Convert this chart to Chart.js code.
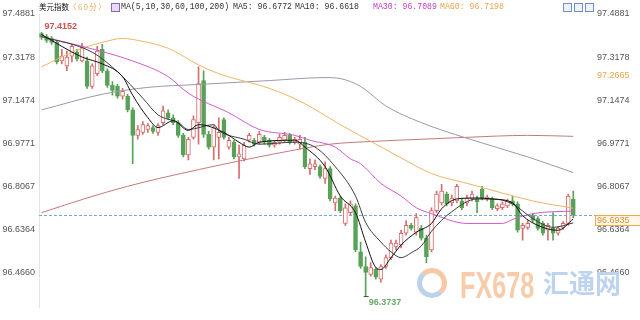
<!DOCTYPE html>
<html>
<head>
<meta charset="utf-8">
<title>美元指数 60分</title>
<script src="https://cdn.jsdelivr.net/npm/chart.js@4.4.1/dist/chart.umd.min.js"></script>
<style>
  html, body { margin: 0; padding: 0; background: #fff; }
  #box { position: relative; width: 640px; height: 320px; overflow: hidden; }
  #c { position: absolute; left: 0; top: 0; }
  .t { position: absolute; top: 2px; line-height: 10px; white-space: nowrap; }
  .cn { font-size: 7.5px; font-family: "Noto Sans CJK SC", sans-serif; color: #111; }
  .ma { font-size: 8.2px; font-family: "Liberation Mono", monospace; color: #333; }
  .ico { position: absolute; top: 3px; width: 7px; height: 7px; border: 1px solid #6f8fc8; background: #eef3fb; }
  .wm { position: absolute; pointer-events: none; font-weight: bold; white-space: nowrap; line-height: 1; }
</style>
</head>
<body>
<div id="box">
  <canvas id="c" width="640" height="320"></canvas>

  <span class="t cn" style="left:39px">美元指数</span>
  <span class="t cn" style="left:69px;color:#e9a54a;letter-spacing:1.5px">〈60分〉</span>
  <span class="ico" style="left:111px;border-color:#8b66b8;background:#e6daf4"></span>
  <span class="t ma" style="left:121px">MA(5,10,30,60,100,200)</span>
  <span class="t ma" style="left:233px">MA5: 96.6772</span>
  <span class="t ma" style="left:295px">MA10: 96.6618</span>
  <span class="t ma" style="left:373px;color:#c23cc2">MA30: 96.7089</span>
  <span class="t ma" style="left:440px;color:#e6a64c">MA60: 96.7198</span>
  <span class="ico" style="left:563px"></span>
  <span class="ico" style="left:574px"></span>
  <span class="ico" style="left:585px"></span>

  <div class="wm" style="left:417px;top:268px;width:20px;height:20px;border-radius:50%;border:5px solid #f6c8a6;border-left-color:#bcd2ec;border-bottom-color:#bcd2ec"></div>
  <div class="wm" style="left:460px;top:268px;font-size:36px;font-family:'Liberation Sans',sans-serif;color:#f8ccaa;transform:scaleX(0.7);transform-origin:left top">FX678</div>
  <div class="wm" style="left:543px;top:269px;font-size:26px;font-family:'Noto Sans CJK SC',sans-serif;color:#bdd3ee">汇通网</div>
</div>

<script>
// y axis
const yTicks = [97.4881, 97.3178, 97.1474, 96.9771, 96.8067, 96.6364, 96.4660];
const yMax = 97.4881;
const yMin = 96.3267;
const lastPrice = 96.6935;
const sideLevel = 97.2665;

// 60 min candles
const opens = [
  97.4107, 97.3991, 97.3913, 97.3758, 97.3023, 97.2829, 97.3216, 97.3371, 97.3023, 97.3023,
  97.2016, 97.2519, 97.3487, 97.2636, 97.2055, 97.2016, 97.1629, 97.1629, 97.1087, 97.0080,
  97.0197, 97.0313, 97.0390, 97.0197, 97.0584, 97.0971, 97.0777, 97.0584, 97.0080, 96.9306,
  97.0003, 97.0584, 97.2248, 97.0119, 96.9616, 97.0003, 97.0700, 96.9616, 96.9809, 96.9229,
  96.9151, 96.9887, 96.9887, 96.9809, 97.0003, 96.9887, 96.9693, 96.9809, 96.9887, 97.0080,
  96.9809, 96.9732, 96.9809, 96.8764, 96.8841, 96.8841, 96.8377, 96.8764, 96.7410, 96.7603,
  96.6596, 96.7022, 96.7293, 96.5473, 96.4893, 96.4583, 96.4777, 96.4389, 96.4893, 96.5241,
  96.5667, 96.5745, 96.6209, 96.6519, 96.6248, 96.6403, 96.6015, 96.5551, 96.7100, 96.7410,
  96.7758, 96.7410, 96.7487, 96.7487, 96.7410, 96.7564, 96.7564, 96.7951, 96.7564, 96.7564,
  96.7177, 96.7216, 96.7293, 96.7487, 96.7371, 96.6403, 96.6441, 96.6906, 96.6790, 96.6596,
  96.6325, 96.6403, 96.6209, 96.6441, 96.6596, 96.7564
];
const highs = [
  97.4152, 97.4068, 97.3991, 97.3836, 97.3487, 97.3410, 97.3681, 97.3487, 97.3720, 97.3178,
  97.2907, 97.3603, 97.3681, 97.2713, 97.2210, 97.2094, 97.1939, 97.1707, 97.1165, 97.0467,
  97.0622, 97.0545, 97.0467, 97.0545, 97.1242, 97.1087, 97.0893, 97.0661, 97.0158, 97.0003,
  97.0855, 97.2790, 97.2636, 97.0235, 97.0467, 97.0777, 97.0777, 97.0003, 96.9887, 96.9693,
  96.9809, 97.0158, 96.9964, 97.0235, 97.0080, 96.9964, 96.9887, 97.0119, 97.0197, 97.0158,
  97.0003, 97.0080, 97.0003, 96.9151, 96.9112, 96.8919, 96.9035, 96.8841, 96.7680, 96.7680,
  96.7371, 96.7487, 96.7371, 96.5861, 96.5280, 96.5047, 96.4854, 96.4970, 96.5357, 96.5938,
  96.5938, 96.6325, 96.6712, 96.6596, 96.6984, 96.6519, 96.6132, 96.7216, 96.7874, 96.8144,
  96.7835, 96.7719, 96.8144, 96.7603, 96.7719, 96.7874, 96.7680, 96.8067, 96.7719, 96.7642,
  96.7371, 96.7448, 96.7564, 96.7680, 96.7448, 96.6596, 96.6712, 96.6984, 96.6867, 96.6674,
  96.6596, 96.7022, 96.6480, 96.6674, 96.7758, 96.7874
];
const lows = [
  97.3874, 97.3758, 97.3681, 97.2907, 97.2907, 97.2636, 97.2984, 97.3023, 97.2984, 97.1939,
  97.1939, 97.2442, 97.2558, 97.1978, 97.1668, 97.1552, 97.1513, 97.1010, 96.8958, 96.9926,
  97.0119, 97.0197, 97.0158, 97.0080, 97.0506, 97.0700, 97.0506, 97.0003, 96.9229, 96.9112,
  96.9926, 96.9732, 97.0003, 96.9538, 96.9112, 96.9151, 96.9926, 96.9538, 96.9151, 96.8377,
  96.9074, 96.9809, 96.9654, 96.9732, 96.9732, 96.9616, 96.9616, 96.9732, 96.9809, 96.9732,
  96.9732, 96.9538, 96.8764, 96.8532, 96.8725, 96.8377, 96.8183, 96.7487, 96.7100, 96.7022,
  96.6519, 96.6945, 96.5473, 96.4815, 96.3737, 96.4506, 96.4389, 96.4273, 96.4815, 96.5164,
  96.5551, 96.5629, 96.6132, 96.6325, 96.6132, 96.5938, 96.5047, 96.5473, 96.7022, 96.7332,
  96.7293, 96.7293, 96.7410, 96.7139, 96.7293, 96.7487, 96.7022, 96.7525, 96.7487, 96.7139,
  96.7100, 96.7139, 96.7216, 96.7293, 96.6248, 96.5938, 96.6364, 96.6635, 96.6325, 96.6132,
  96.5938, 96.5938, 96.6132, 96.6364, 96.6519, 96.6829
];
const closes = [
  97.3952, 97.3836, 97.3758, 97.2984, 97.3216, 97.3178, 97.3603, 97.3100, 97.3565, 97.2016,
  97.2829, 97.3410, 97.2636, 97.2055, 97.1861, 97.1629, 97.1823, 97.1087, 97.0080, 97.0313,
  97.0506, 97.0467, 97.0235, 97.0467, 97.1048, 97.0777, 97.0584, 97.0080, 96.9306, 96.9926,
  97.0700, 97.2132, 97.0119, 96.9616, 97.0390, 97.0197, 97.0003, 96.9887, 96.9229, 96.9345,
  96.9693, 97.0080, 96.9732, 97.0119, 96.9809, 96.9693, 96.9809, 97.0003, 97.0080, 96.9809,
  96.9926, 96.9926, 96.8841, 96.8958, 96.8958, 96.8454, 96.8764, 96.7564, 96.7603, 96.7100,
  96.7216, 96.7371, 96.5551, 96.4893, 96.4660, 96.4854, 96.4467, 96.4893, 96.5241, 96.5822,
  96.5822, 96.6209, 96.6519, 96.6403, 96.6829, 96.6015, 96.5280, 96.7100, 96.7758, 96.7874,
  96.7371, 96.7603, 96.8067, 96.7216, 96.7603, 96.7758, 96.7448, 96.7603, 96.7642, 96.7216,
  96.7293, 96.7371, 96.7487, 96.7371, 96.6325, 96.6519, 96.6596, 96.6712, 96.6403, 96.6209,
  96.6519, 96.6209, 96.6403, 96.6596, 96.7680, 96.6935
];

// moving averages, sampled along each line (candle index -> value)
const ma5At = [0, 8, 12, 16, 18, 21, 23, 26, 29, 31, 36, 39, 41, 43, 50, 52, 56, 59, 62, 64, 66, 67, 69, 71, 74, 77, 79, 82, 86, 89, 93, 95, 98, 102, 105];
const ma5 = [97.4068, 97.3178, 97.2907, 97.2403, 97.1668, 97.0777, 97.0390, 97.0661, 97.0274, 97.0506,
  97.0197, 96.9809, 96.9616, 96.9809, 96.9887, 96.9616, 96.8841, 96.7680, 96.7022, 96.5861,
  96.4854, 96.4777, 96.5241, 96.5745, 96.6248, 96.6596, 96.7177, 96.7564, 96.7603, 96.7564,
  96.7410, 96.6906, 96.6519, 96.6325, 96.6772];

const ma10At = [0, 10, 15, 20, 23, 27, 29, 34, 35, 40, 43, 50, 54, 58, 62, 64, 67, 69, 71, 73, 75, 77, 81, 86, 89, 93, 97, 101, 105];
const ma10 = [97.3991, 97.3371, 97.2597, 97.1552, 97.0893, 97.0584, 97.0313, 97.0506, 97.0274, 96.9926,
  96.9732, 96.9809, 96.9616, 96.8841, 96.7680, 96.6635, 96.5861, 96.5473, 96.5241, 96.5435,
  96.5706, 96.6287, 96.7061, 96.7564, 96.7564, 96.7371, 96.6790, 96.6441, 96.6618];

const ma30At = [0, 8, 18, 25, 29, 37, 43, 50, 53, 58, 61, 63, 67, 71, 74, 77, 84, 91, 93, 97, 105];
const ma30 = [97.3991, 97.3603, 97.3023, 97.2403, 97.1745, 97.0971, 97.0313, 97.0080, 96.9887, 96.9616,
  96.9151, 96.8958, 96.8183, 96.7680, 96.7216, 96.6984, 96.6596, 96.6596, 96.6751, 96.6984, 96.7089];

const ma60At = [0, 7, 12, 16, 20, 25, 31, 35, 45, 51, 59, 66, 71, 77, 84, 91, 97, 105];
const ma60 = [97.2790, 97.3449, 97.3758, 97.3913, 97.3797, 97.3526, 97.2868, 97.2519, 97.1939, 97.1436,
  97.0506, 96.9732, 96.9190, 96.8570, 96.8183, 96.7796, 96.7487, 96.7198];

const ma100At = [0, 12, 21, 31, 45, 56, 59, 63, 68, 75, 84, 96, 105];
const ma100 = [97.1087, 97.1707, 97.1978, 97.2094, 97.2248, 97.2365, 97.2326, 97.2016, 97.1242, 97.0584,
  96.9964, 96.9229, 96.8609];

const ma200At = [0, 9, 17, 31, 51, 57, 66, 75, 84, 96, 105];
const ma200 = [96.7022, 96.7603, 96.8067, 96.8725, 96.9538, 96.9732, 96.9848, 96.9926, 97.0003, 97.0080, 97.0042];

const UP = '#d56d6d';
const DOWN = '#58a258';
const isUp = i => closes[i] >= opens[i];

const wickData = closes.map((c, i) => ({ x: i, y: [lows[i], highs[i]] }));
const bodyData = closes.map((c, i) => ({ x: i, y: [opens[i], c] }));
const pts = (xs, ys) => xs.map((x, k) => ({ x, y: ys[k] }));

function maLine(label, xs, ys, color, order) {
  return {
    type: 'line', label, data: pts(xs, ys), order,
    borderColor: color, borderWidth: 1, pointRadius: 0,
    cubicInterpolationMode: 'monotone'
  };
}

const tickFont = { family: "'Liberation Sans', Arial, sans-serif", size: 9 };
const setTicks = s => { s.ticks = yTicks.map(v => ({ value: v })); };

// dashed last price line, hi / lo markers, right side labels
const marks = {
  id: 'marks',
  beforeDatasetsDraw(chart) {
    const { ctx, chartArea, scales: { y } } = chart;
    const py = Math.round(y.getPixelForValue(lastPrice)) + 0.5;
    ctx.save();
    ctx.strokeStyle = '#78a6d6';
    ctx.lineWidth = 1;
    ctx.setLineDash([3, 2]);
    ctx.beginPath();
    ctx.moveTo(chartArea.left, py);
    ctx.lineTo(chartArea.right + 6, py);
    ctx.stroke();
    ctx.restore();
  },
  afterDatasetsDraw(chart) {
    const { ctx, chartArea, scales: { x, y } } = chart;
    ctx.save();
    ctx.font = "bold 9px 'Liberation Sans', Arial, sans-serif";

    const hiI = highs.indexOf(Math.max(...highs));
    const loI = lows.indexOf(Math.min(...lows));
    const hx = x.getPixelForValue(hiI), hy = y.getPixelForValue(highs[hiI]);
    const lx = x.getPixelForValue(loI), ly = y.getPixelForValue(lows[loI]);

    ctx.fillStyle = '#c9524f';
    ctx.textBaseline = 'bottom';
    ctx.fillText(highs[hiI].toFixed(4), hx + 3, hy - 1);

    ctx.strokeStyle = '#555';
    ctx.lineWidth = 1;
    ctx.beginPath();
    ctx.moveTo(lx - 2, Math.round(ly) + 0.5);
    ctx.lineTo(lx + 3, Math.round(ly) + 0.5);
    ctx.stroke();
    ctx.fillStyle = '#6aa86a';
    ctx.textBaseline = 'top';
    ctx.fillText(lows[loI].toFixed(4), lx + 3, ly + 2);

    ctx.font = "9px 'Liberation Sans', Arial, sans-serif";
    ctx.textBaseline = 'middle';
    ctx.fillStyle = '#e9a54a';
    ctx.fillText(sideLevel.toFixed(4), chartArea.right + 7, y.getPixelForValue(sideLevel) + 5);

    const py = Math.round(y.getPixelForValue(lastPrice));
    ctx.fillStyle = '#fff8ea';
    ctx.fillRect(chartArea.right + 5, py, 50, 11);
    ctx.strokeStyle = '#f0a848';
    ctx.strokeRect(chartArea.right + 5.5, py + 0.5, 50, 10);
    ctx.fillStyle = '#d8902e';
    ctx.fillText(lastPrice.toFixed(4), chartArea.right + 7, py + 6);
    ctx.restore();
  }
};

new Chart(document.getElementById('c'), {
  type: 'bar',
  data: {
    datasets: [
      {
        label: 'wick', data: wickData, order: 9, grouped: false,
        barThickness: 1,
        backgroundColor: c => isUp(c.dataIndex) ? UP : DOWN
      },
      {
        label: 'body', data: bodyData, order: 8, grouped: false,
        barThickness: 4, minBarLength: 1, borderWidth: 1, borderSkipped: false,
        backgroundColor: c => isUp(c.dataIndex) ? '#ffffff' : DOWN,
        borderColor: c => isUp(c.dataIndex) ? UP : DOWN
      },
      maLine('MA200', ma200At, ma200, '#c47a78', 6),
      maLine('MA100', ma100At, ma100, '#9a98ac', 5),
      maLine('MA60', ma60At, ma60, '#f0b464', 4),
      maLine('MA30', ma30At, ma30, '#cc5ccc', 3),
      maLine('MA10', ma10At, ma10, '#3c3c3c', 2),
      maLine('MA5', ma5At, ma5, '#111111', 1)
    ]
  },
  options: {
    responsive: false,
    animation: false,
    events: [],
    layout: { padding: { top: 14, bottom: 6, left: 0, right: 0 } },
    plugins: { legend: { display: false }, tooltip: { enabled: false } },
    scales: {
      x: { type: 'linear', min: -0.5, max: 108.3, offset: false, display: false },
      y: {
        position: 'left', min: yMin, max: yMax,
        grid: { display: false, drawTicks: false, tickLength: 0 },
        border: { display: true, color: '#e3e3e3' },
        afterBuildTicks: setTicks,
        afterFit: s => { s.width = 39; },
        ticks: { padding: 4, color: '#555', font: tickFont, callback: v => v.toFixed(4) }
      },
      y2: {
        position: 'right', min: yMin, max: yMax,
        grid: { display: false, drawTicks: false, tickLength: 0 },
        border: { display: false },
        afterBuildTicks: setTicks,
        afterFit: s => { s.width = 50; },
        ticks: { padding: 7, color: '#555', font: tickFont, callback: v => v.toFixed(4) }
      }
    }
  },
  plugins: [marks]
});
</script>
</body>
</html>
